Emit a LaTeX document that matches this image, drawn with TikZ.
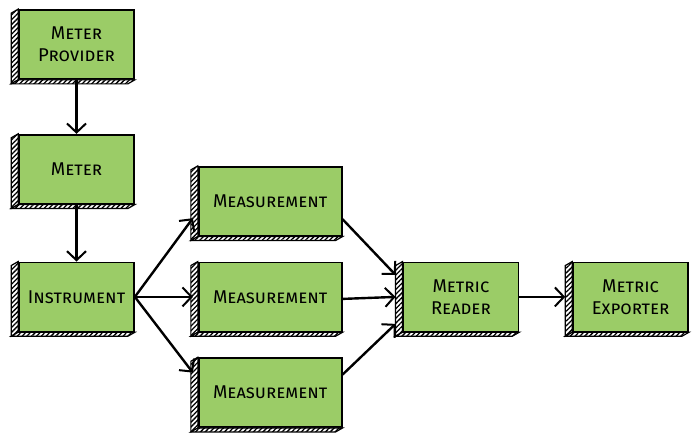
\documentclass[tikz,border=0pt]{standalone}
\usepackage{fontspec}
\setmainfont{Fira Sans}
\usepackage{tikz}
\usetikzlibrary{arrows.meta, positioning, calc, patterns.meta}
\definecolor{boxgreen}{RGB}{155,204,103}

\begin{document}
\begin{tikzpicture}[node distance=54pt and 63pt,
	box/.style={draw, line width=1.7pt, fill=boxgreen, minimum width=115pt, minimum height=69pt, align=center, inner sep=2pt, font=\fontsize{18.5}{22}\selectfont\scshape},
	wide/.style={box, minimum width=143pt},
	arr/.style={line width=2.4pt, -{Straight Barb[length=9pt, width=19pt, line width=2pt]}},
	hatch/.style={fill=white, postaction={pattern={Lines[angle=45, distance=3.4pt, line width=1.3pt]}}, draw, line width=1.2pt}]
	\useasboundingbox (0,0) rectangle (694pt,-440pt);
		\node[box] (prov) at (76.5pt,-44.5pt) {Meter\\Provider};
		\node[box, below =of prov] (meter) {Meter};
		\node[box, below =57pt of meter] (instr) {Instrument};
			\node[wide, right =of instr] (m2) {Measurement};
			\node[wide, above =25pt of m2] (m1) {Measurement};
			\node[wide, below =25pt of m2] (m3) {Measurement};
		\node[box, right =60pt of m2] (reader) {Metric\\Reader};
		\node[box, right =53pt of reader] (exp) {Metric\\Exporter};
		% hatched depth on the left and bottom
		\foreach \n in {prov,meter,instr,m1,m2,m3,reader,exp} {
			\draw[hatch] (\n.north west) -- ++(-7pt,-4pt) -- ($(\n.south west)+(-7pt,-4pt)$) -- (\n.south west) -- cycle;
			\draw[hatch] (\n.south west) -- ++(-7pt,-4pt) -- ($(\n.south east)+(-7pt,-4pt)$) -- (\n.south east) -- cycle;
		}
		\foreach \from/\to in {prov/meter,meter/instr}
			\draw[arr] (\from) -- (\to);
		\draw[arr] (instr.east) -- ([xshift=-5pt, yshift=-17pt]m1.west);
		\draw[arr] (instr.east) -- ([xshift=-5pt]m2.west);
		\draw[arr] (instr.east) -- ([xshift=-5pt, yshift=20pt]m3.west);
		\draw[arr] ([yshift=-18pt]m1.east) -- ([xshift=-7pt, yshift=22pt]reader.west);
		\draw[arr] ([yshift=-2pt]m2.east) -- ([xshift=-7pt]reader.west);
		\draw[arr] ([yshift=18pt]m3.east) -- ([xshift=-7pt, yshift=-27pt]reader.west);
		\draw[arr] (reader) -- ([xshift=-7pt]exp.west);
	\end{tikzpicture}
\end{document}
